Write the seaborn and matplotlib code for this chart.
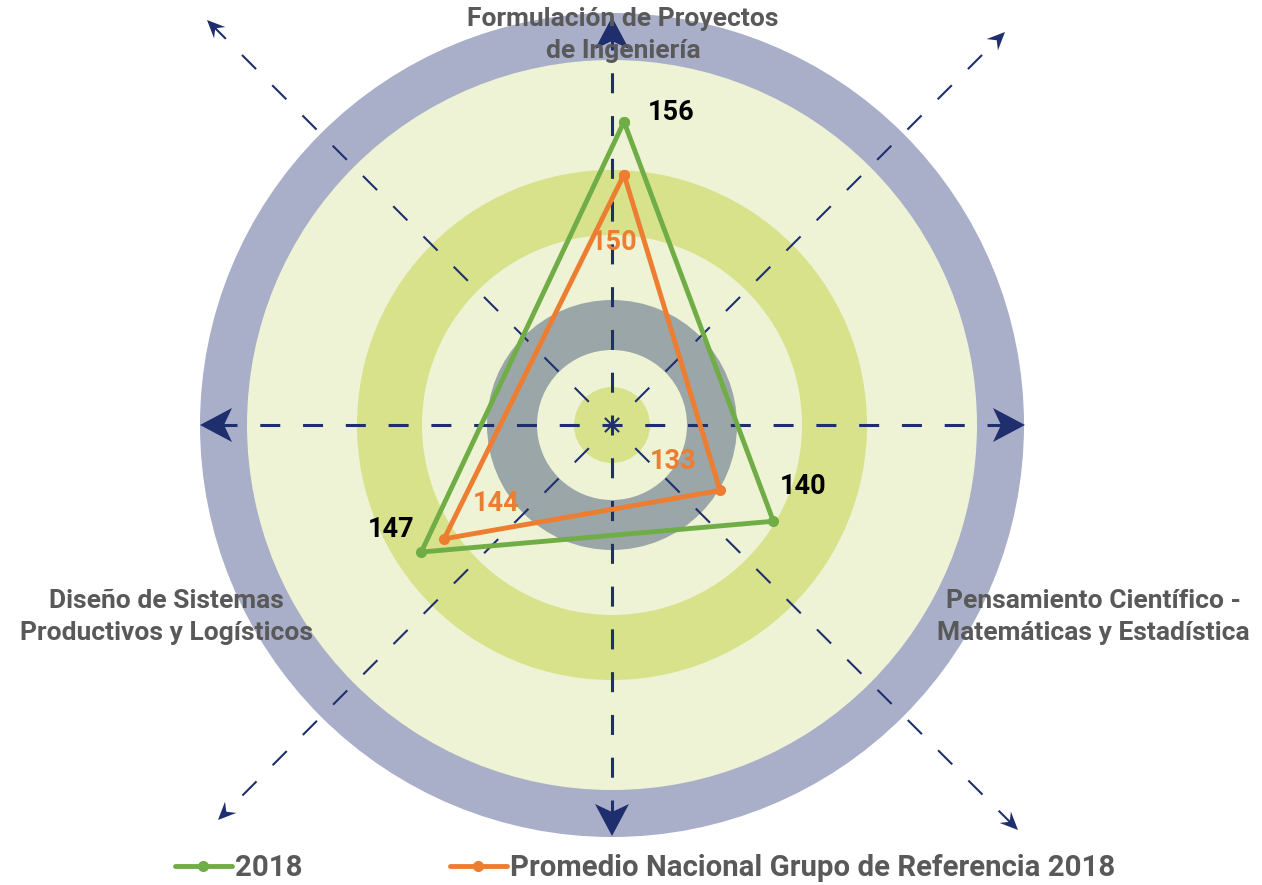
import numpy as np
import matplotlib
matplotlib.use("Agg")
import matplotlib.pyplot as plt
from matplotlib.patches import Circle, Polygon
import seaborn as sns

# Data
categories = [
    "Formulación de Proyectos\nde Ingeniería",
    "Pensamiento Científico -\nMatemáticas y Estadística",
    "Diseño de Sistemas\nProductivos y Logísticos",
]
series_names = ["2018", "Promedio Nacional Grupo de Referencia 2018"]
scores_2018 = [156, 140, 147]
scores_promedio = [150, 133, 144]

sns.set_style("white")
plt.rcParams["font.family"] = ["Roboto", "DejaVu Sans"]
plt.rcParams["lines.scale_dashes"] = False

W, H = 1262, 885
fig = plt.figure(figsize=(W / 100, H / 100), dpi=100)

# background target drawn in pixel units
bg = fig.add_axes([0, 0, 1, 1])
bg.set_xlim(0, W)
bg.set_ylim(H, 0)
bg.set_axis_off()

cx, cy = 612, 425
light = "#edf3d4"
lime = "#d7e28b"
for r, c in [(412, "#a9aec9"), (365, light), (255, lime), (190, light),
             (125, "#9ba6a9"), (75, light), (38, lime)]:
    bg.add_patch(Circle((cx, cy), r, color=c, lw=0, zorder=0))

navy = "#1f2f6e"


def ray(tip, lw, head_len, head_w, notch):
    t = np.array(tip, float)
    c = np.array([cx, cy], float)
    d = t - c
    L = np.hypot(*d)
    u = d / L
    n = np.array([-u[1], u[0]])
    end = c + u * (L - head_len * 0.6)
    bg.plot([cx, end[0]], [cy, end[1]], color=navy, lw=lw,
            ls=(7.2, (14.4, 16.4)), dash_capstyle="butt", zorder=1)
    back = t - u * head_len
    pts = [t, back + n * head_w, t - u * head_len * (1 - notch), back - n * head_w]
    bg.add_patch(Polygon(pts, closed=True, color=navy, lw=0, zorder=1))


for tip in [(1025, 425), (200, 425), (612, 17), (612, 836)]:
    ray(tip, 2.2, 32, 17, 0.25)
for tip in [(207, 20), (1005, 32), (1018, 830), (218, 820)]:
    ray(tip, 1.5, 18, 8, 0.35)

label_pos = [(623, 35), (1093, 617), (166, 617)]
for (x, y), txt in zip(label_pos, categories):
    bg.text(x, y, txt, ha="center", va="center", fontsize=19, weight="bold",
            color="#595959", zorder=2, linespacing=1.45)

# radar
r_lo, r_hi = 120.4, 160
rcx, rcy = 624, 435
R = (r_hi - r_lo) * 8.8
pax = fig.add_axes([(rcx - R) / W, (H - rcy - R) / H, 2 * R / W, 2 * R / H],
                   projection="polar")
pax.patch.set_alpha(0)
pax.set_theta_offset(np.pi / 2)
pax.set_theta_direction(-1)
pax.set_ylim(r_lo, r_hi)
pax.set_axis_off()

theta = [0, 2 * np.pi / 3, 4 * np.pi / 3]
theta_closed = theta + [2 * np.pi]

green = "#70ad47"
orange = "#ed7d31"

sns.lineplot(x=theta_closed, y=scores_2018 + scores_2018[:1], ax=pax, sort=False,
             estimator=None, color=green, lw=3.5, marker="o", markersize=8,
             markeredgewidth=0, label=series_names[0], legend=False)
sns.lineplot(x=theta_closed, y=scores_promedio + scores_promedio[:1], ax=pax,
             sort=False, estimator=None, color=orange, lw=3.5, marker="o",
             markersize=8, markeredgewidth=0, label=series_names[1], legend=False)

green_off = [(47, 9), (30, 35), (-30, 23)]
orange_off = [(-10, -68), (-47, 29), (52, 35)]
for t, v, off in zip(theta, scores_2018, green_off):
    pax.annotate(str(v), (t, v), xytext=off, textcoords="offset pixels",
                 ha="center", va="center", fontsize=19.5, weight="bold", color="black")
for t, v, off in zip(theta, scores_promedio, orange_off):
    pax.annotate(str(v), (t, v), xytext=off, textcoords="offset pixels",
                 ha="center", va="center", fontsize=19.5, weight="bold", color=orange)

handles, labels = pax.get_legend_handles_labels()
fig.legend(handles, labels, loc="center", bbox_to_anchor=(645 / W, 1 - 868 / H),
           ncol=2, frameon=False, prop=dict(weight="bold", size=21.2),
           labelcolor="#595959", handlelength=1.95, handletextpad=0.1,
           columnspacing=5.0, borderaxespad=0, borderpad=0)

fig.savefig("out.png", dpi=100)
